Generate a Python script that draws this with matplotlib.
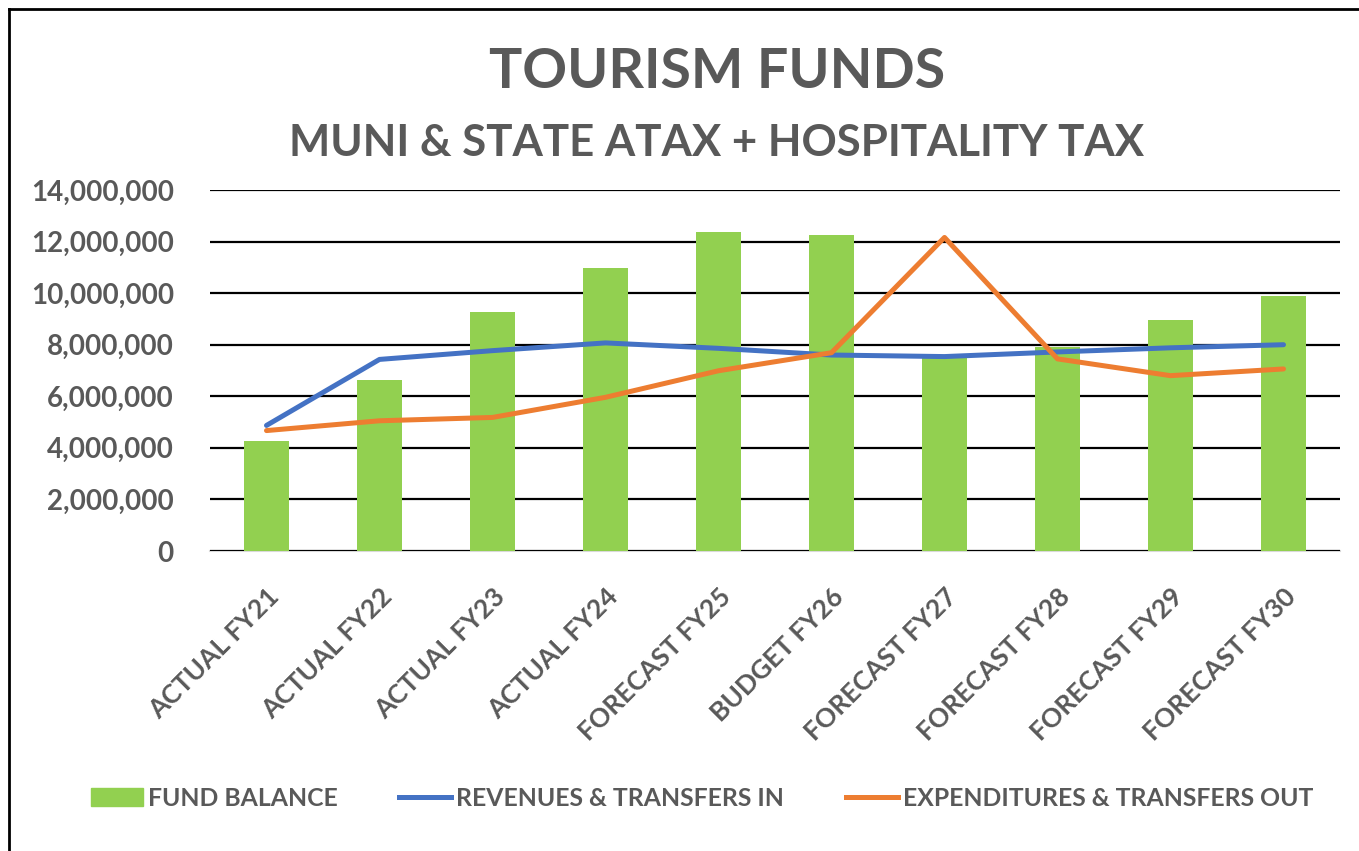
import numpy as np
import matplotlib.pyplot as plt
from matplotlib.lines import Line2D
from matplotlib.patches import Patch
from matplotlib.ticker import FuncFormatter

# --- data ---
categories = ['ACTUAL FY21', 'ACTUAL FY22', 'ACTUAL FY23', 'ACTUAL FY24', 'FORECAST FY25',
              'BUDGET FY26', 'FORECAST FY27', 'FORECAST FY28', 'FORECAST FY29', 'FORECAST FY30']
fund_balance = [4.25e6, 6.62e6, 9.26e6, 10.96e6, 12.36e6, 12.27e6, 7.55e6, 7.91e6, 8.95e6, 9.89e6]
revenues_in = [4.87e6, 7.43e6, 7.77e6, 8.07e6, 7.86e6, 7.60e6, 7.54e6, 7.72e6, 7.88e6, 8.00e6]
expend_out = [4.67e6, 5.05e6, 5.18e6, 5.96e6, 6.99e6, 7.69e6, 12.16e6, 7.45e6, 6.80e6, 7.06e6]
y_ticks = [0, 2e6, 4e6, 6e6, 8e6, 10e6, 12e6, 14e6]

GRAY = '#595959'
GREEN = '#92d050'
BLUE = '#4472c4'
ORANGE = '#ed7d31'
FONT = 'Lato'

W, H = 1359, 851
fig = plt.figure(figsize=(W / 100, H / 100), dpi=100)
ax = fig.add_axes([210 / W, 1 - 551 / H, (1340 - 210) / W, (551 - 190) / H])

x = np.arange(len(categories))
ax.bar(x, fund_balance, width=0.4, color=GREEN, zorder=2)
ax.plot(x, revenues_in, color=BLUE, lw=3.6, solid_capstyle='round', zorder=3)
ax.plot(x, expend_out, color=ORANGE, lw=3.6, solid_capstyle='round', zorder=4)

ax.set_xlim(-0.5, len(categories) - 0.5)
ax.set_ylim(0, 14e6)
ax.set_yticks(y_ticks)
ax.yaxis.set_major_formatter(FuncFormatter(lambda v, p: f'{int(v):,}'))
ax.grid(axis='y', color='black', lw=1.6, zorder=1)
for s in ['top', 'right', 'left']:
    ax.spines[s].set_visible(False)
ax.spines['bottom'].set_color('#d9d9d9')
ax.spines['bottom'].set_linewidth(1.5)
ax.spines['bottom'].set_zorder(1.5)
ax.tick_params(length=0)
ax.tick_params(axis='y', pad=26)
ax.tick_params(axis='x', pad=24)

ax.set_xticks(x)
ax.set_xticklabels(categories, rotation=45, ha='right', rotation_mode='anchor')
for lab in ax.get_yticklabels():
    lab.set_fontfamily(FONT)
    lab.set_fontweight('bold')
    lab.set_fontsize(20)
    lab.set_color(GRAY)
for lab in ax.get_xticklabels():
    lab.set_fontfamily(FONT)
    lab.set_fontweight('bold')
    lab.set_fontsize(19)
    lab.set_color(GRAY)

fig.text(717 / W, 1 - 72 / H, 'TOURISM FUNDS', ha='center', va='center',
         fontsize=40, fontweight='bold', color=GRAY, family=FONT)
fig.text(717 / W, 1 - 143 / H, 'MUNI & STATE ATAX + HOSPITALITY TAX', ha='center', va='center',
         fontsize=31.5, fontweight='bold', color=GRAY, family=FONT)

handles = [Patch(color=GREEN, label='FUND BALANCE'),
           Line2D([], [], color=BLUE, lw=3.6, label='REVENUES & TRANSFERS IN'),
           Line2D([], [], color=ORANGE, lw=3.6, label='EXPENDITURES & TRANSFERS OUT')]
fig.legend(handles=handles, loc='center', bbox_to_anchor=(702 / W, 1 - 798 / H), ncol=3,
           frameon=False, prop={'family': FONT, 'weight': 'bold', 'size': 17.8},
           labelcolor=GRAY, handlelength=2.1, handletextpad=0.2, columnspacing=2.5)

# chart frame (top and left edges visible in the reference)
fig.add_artist(Line2D([9 / W, 9 / W], [0, 1 - 9 / H], color='black', lw=2, transform=fig.transFigure))
fig.add_artist(Line2D([9 / W, 1], [1 - 9 / H, 1 - 9 / H], color='black', lw=2, transform=fig.transFigure))

fig.savefig('out.png', dpi=100)
